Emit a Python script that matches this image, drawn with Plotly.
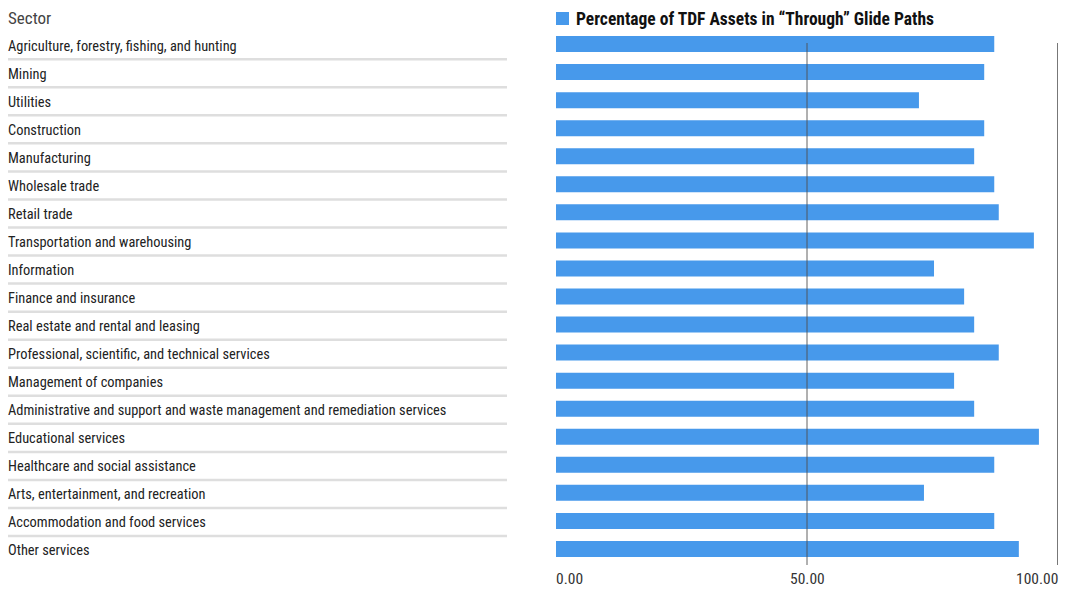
import plotly.graph_objects as go

sectors = [
    "Agriculture, forestry, fishing, and hunting",
    "Mining",
    "Utilities",
    "Construction",
    "Manufacturing",
    "Wholesale trade",
    "Retail trade",
    "Transportation and warehousing",
    "Information",
    "Finance and insurance",
    "Real estate and rental and leasing",
    "Professional, scientific, and technical services",
    "Management of companies",
    "Administrative and support and waste management and remediation services",
    "Educational services",
    "Healthcare and social assistance",
    "Arts, entertainment, and recreation",
    "Accommodation and food services",
    "Other services",
]
pct_through = [87.3, 85.3, 72.3, 85.3, 83.3, 87.3, 88.2, 95.2, 75.3, 81.3,
               83.3, 88.2, 79.3, 83.3, 96.2, 87.3, 73.3, 87.3, 92.2]
tick_vals = [0, 50, 100]
tick_text = ["0.00", "50.00", "100.00"]
series_name = "Percentage of TDF Assets in \u201cThrough\u201d Glide Paths"
header = "Sector"

W, H = 1071, 593
L, R, T, B = 556, 13, 30, 30
pw = W - L - R
ph = H - T - B

FONT = "Liberation Sans Narrow, Roboto Condensed, Roboto, sans-serif"
BLUE = "#4799EB"

def px_to_paper_x(px):
    return (px - L) / pw

def px_to_paper_y(py):
    return (H - B - py) / ph

fig = go.Figure()
fig.add_trace(go.Bar(
    y=sectors, x=pct_through, orientation="h",
    marker=dict(color=BLUE, line=dict(width=0)),
    name=series_name, showlegend=False, hoverinfo="x+y",
))

annotations = []
shapes = []
# row labels and separators
for i, s in enumerate(sectors):
    annotations.append(dict(
        x=px_to_paper_x(6), xref="paper", y=s, yref="y",
        text=s, showarrow=False, xanchor="left", yanchor="middle",
        font=dict(family=FONT, size=14.4, color="#222"), yshift=-2,
    ))
    if i < len(sectors) - 1:
        shapes.append(dict(
            type="line", xref="paper", yref="y",
            x0=px_to_paper_x(8), x1=px_to_paper_x(507),
            y0=i + 0.54, y1=i + 0.54,
            line=dict(color="#dedede", width=2.5),
        ))

# header
annotations.append(dict(
    x=px_to_paper_x(6), xref="paper", y=px_to_paper_y(18), yref="paper",
    text=header, showarrow=False, xanchor="left", yanchor="middle",
    font=dict(family=FONT, size=17, color="#444"),
))
# legend
shapes.append(dict(
    type="rect", xref="paper", yref="paper",
    x0=px_to_paper_x(556), x1=px_to_paper_x(569),
    y0=px_to_paper_y(25), y1=px_to_paper_y(12),
    fillcolor=BLUE, line=dict(width=0),
))
annotations.append(dict(
    x=px_to_paper_x(574), xref="paper", y=px_to_paper_y(19), yref="paper",
    text="<b>" + series_name + "</b>", showarrow=False,
    xanchor="left", yanchor="middle",
    font=dict(family=FONT, size=17.5, color="#111"),
))

# vertical reference lines
shapes.append(dict(
    type="line", xref="x", yref="paper", x0=50, x1=50,
    y0=px_to_paper_y(565), y1=px_to_paper_y(43),
    line=dict(color="rgba(80,80,80,0.75)", width=1.2), layer="above",
))
shapes.append(dict(
    type="line", xref="x", yref="paper", x0=100, x1=100,
    y0=px_to_paper_y(565), y1=px_to_paper_y(43),
    line=dict(color="#777", width=2), layer="above",
))

# tick labels
anchors = ["left", "center", "right"]
shifts = [-2, 0, 2]
for v, t, a, sh in zip(tick_vals, tick_text, anchors, shifts):
    annotations.append(dict(
        x=v, xref="x", y=px_to_paper_y(579), yref="paper",
        text=t, showarrow=False, xanchor=a, yanchor="middle", xshift=sh,
        font=dict(family=FONT, size=15.5, color="#333"),
    ))

fig.update_layout(
    width=W, height=H,
    margin=dict(l=L, r=R, t=T, b=B),
    paper_bgcolor="white", plot_bgcolor="white",
    bargap=0.43,
    xaxis=dict(range=[0, 100], showgrid=False, zeroline=False,
               showticklabels=False, showline=False, fixedrange=True),
    yaxis=dict(autorange="reversed", showgrid=False, zeroline=False,
               showticklabels=False, showline=False, fixedrange=True),
    annotations=annotations, shapes=shapes,
    showlegend=False,
)

fig.write_html("out.html")
